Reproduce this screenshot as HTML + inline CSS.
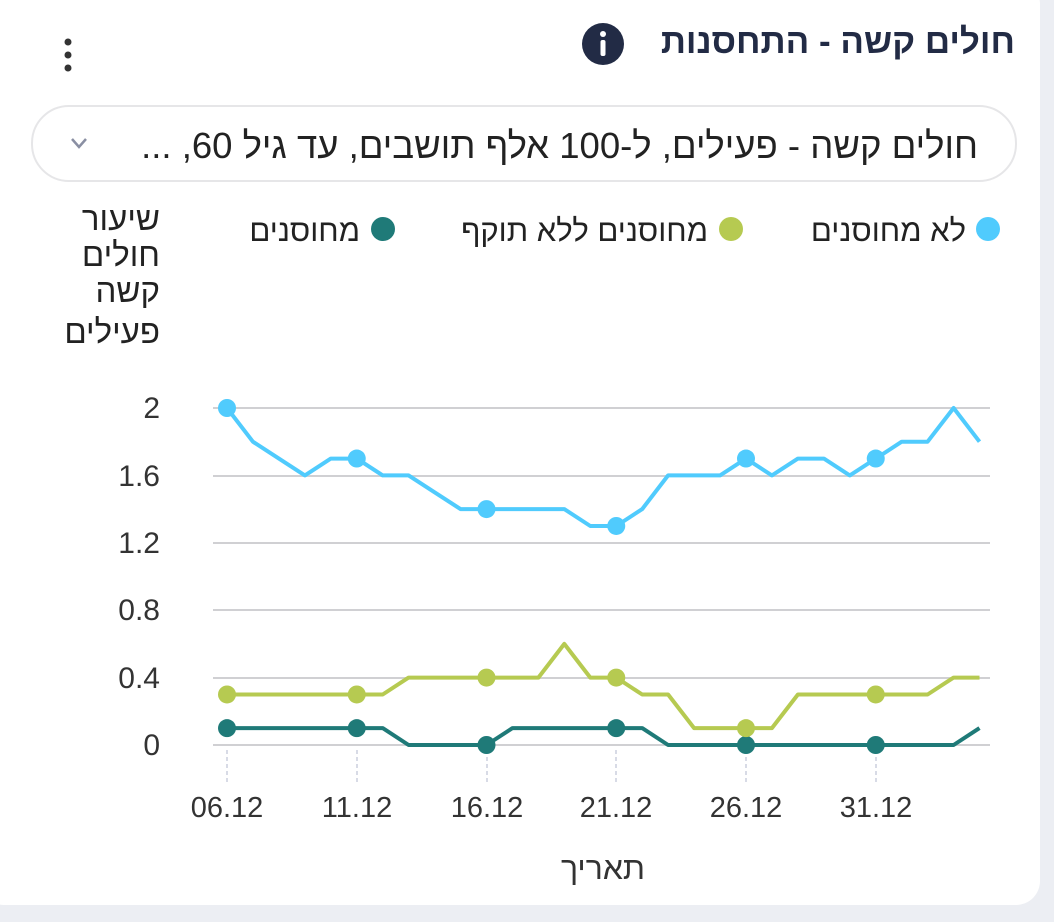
<!DOCTYPE html>
<html><head><meta charset="utf-8"><style>
html,body{margin:0;padding:0;background:#eceef3;}
svg{display:block}
text{font-family:"Liberation Sans","DejaVu Sans",sans-serif;}
</style></head><body>
<svg width="1054" height="922" viewBox="0 0 1054 922" xmlns="http://www.w3.org/2000/svg">
<rect x="0" y="0" width="1054" height="922" fill="#eceef3"/>
<rect x="-20" y="-20" width="1060" height="925" rx="24" fill="#fff"/>
<text x="1015" y="53" font-size="35" font-weight="bold" fill="#222b45" text-anchor="start" direction="rtl">חולים קשה - התחסנות</text>
<circle cx="603" cy="44" r="21" fill="#222b45"/>
<circle cx="603" cy="34" r="3" fill="#fff"/>
<rect x="600.5" y="40" width="5" height="16" rx="2" fill="#fff"/>
<circle cx="68" cy="42" r="3.5" fill="#333"/><circle cx="68" cy="55" r="3.5" fill="#333"/><circle cx="68" cy="68" r="3.5" fill="#333"/>
<rect x="32" y="106" width="984" height="75" rx="37" fill="#fff" stroke="#e6e6e8" stroke-width="2"/>
<text x="978" y="158" font-size="36.5" fill="#222" text-anchor="start" direction="rtl">חולים קשה - פעילים, ל-100 אלף תושבים, עד גיל 60, ...</text>
<path d="M72 139 L79 147 L86 139" fill="none" stroke="#8a8fa3" stroke-width="2.5"/>
<circle cx="988" cy="229" r="12" fill="#50cbfd"/>
<text x="966" y="241" font-size="31" fill="#222" text-anchor="start" direction="rtl">לא מחוסנים</text>
<circle cx="731" cy="229" r="12" fill="#b6ca51"/>
<text x="708" y="241" font-size="31" fill="#222" text-anchor="start" direction="rtl">מחוסנים ללא תוקף</text>
<circle cx="383" cy="229" r="12" fill="#1f7a78"/>
<text x="360" y="241" font-size="31" fill="#222" text-anchor="start" direction="rtl">מחוסנים</text>
<g font-size="33" fill="#222" text-anchor="start" direction="rtl">
<text x="160" y="230">שיעור</text><text x="160" y="266">חולים</text><text x="160" y="302">קשה</text><text x="160" y="343">פעילים</text>
</g>
<g stroke="#d0d0d3" stroke-width="2">
<line x1="213" x2="990" y1="408" y2="408"/><line x1="213" x2="990" y1="476" y2="476"/><line x1="213" x2="990" y1="543" y2="543"/><line x1="213" x2="990" y1="610" y2="610"/><line x1="213" x2="990" y1="678" y2="678"/><line x1="213" x2="990" y1="745" y2="745"/>
</g>
<g stroke="#d8dbe6" stroke-width="2" stroke-dasharray="4 3">
<line x1="227" x2="227" y1="750" y2="785"/><line x1="357" x2="357" y1="750" y2="785"/><line x1="487" x2="487" y1="750" y2="785"/><line x1="616" x2="616" y1="750" y2="785"/><line x1="746" x2="746" y1="750" y2="785"/><line x1="876" x2="876" y1="750" y2="785"/>
</g>
<g font-size="30" fill="#333" text-anchor="end">
<text x="160" y="418">2</text><text x="160" y="486">1.6</text><text x="160" y="553">1.2</text><text x="160" y="620">0.8</text><text x="160" y="688">0.4</text><text x="160" y="755">0</text>
</g>
<g font-size="29" fill="#333" text-anchor="middle">
<text x="227" y="817">06.12</text><text x="357" y="817">11.12</text><text x="487" y="817">16.12</text><text x="616" y="817">21.12</text><text x="746" y="817">26.12</text><text x="876" y="817">31.12</text>
</g>
<text x="603" y="879" font-size="32" fill="#333" text-anchor="middle">תאריך</text>
<g id="series"></g>
</svg>
<script>
const blue=[2,1.8,1.7,1.6,1.7,1.7,1.6,1.6,1.5,1.4,1.4,1.4,1.4,1.4,1.3,1.3,1.4,1.6,1.6,1.6,1.7,1.6,1.7,1.7,1.6,1.7,1.8,1.8,2,1.8];
const lime=[0.3,0.3,0.3,0.3,0.3,0.3,0.3,0.4,0.4,0.4,0.4,0.4,0.4,0.6,0.4,0.4,0.3,0.3,0.1,0.1,0.1,0.1,0.3,0.3,0.3,0.3,0.3,0.3,0.4,0.4];
const teal=[0.1,0.1,0.1,0.1,0.1,0.1,0.1,0,0,0,0,0.1,0.1,0.1,0.1,0.1,0.1,0,0,0,0,0,0,0,0,0,0,0,0,0.1];
const X=i=>227+i*25.95, Y=v=>745-v*168.5;
const g=document.getElementById('series');let s='';
[[teal,'#1f7a78'],[lime,'#b6ca51'],[blue,'#50cbfd']].forEach(([d,c])=>{
s+=`<polyline fill="none" stroke="${c}" stroke-width="4" stroke-linejoin="round" points="${d.map((v,i)=>X(i).toFixed(1)+','+Y(v).toFixed(1)).join(' ')}"/>`;
[0,5,10,15,20,25].forEach(i=>{s+=`<circle cx="${X(i)}" cy="${Y(d[i])}" r="9" fill="${c}"/>`;});
});
g.innerHTML=s;
</script>
</body></html>
